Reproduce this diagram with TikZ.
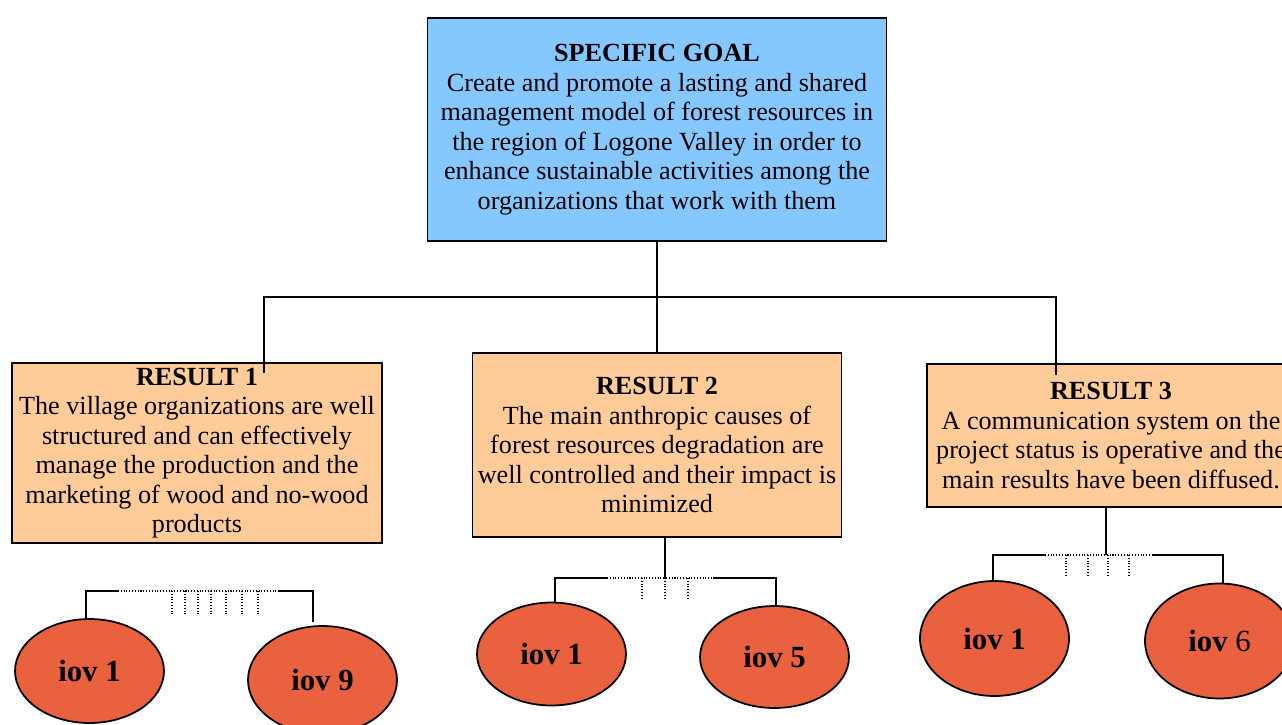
\documentclass[tikz,border=0pt]{standalone}
\usepackage{fontspec}
\setmainfont{Liberation Serif}
\usetikzlibrary{positioning,shapes.geometric}
\definecolor{goalblue}{RGB}{133,200,255}
\definecolor{resultpeach}{RGB}{255,204,153}
\definecolor{iovred}{RGB}{233,97,62}
\tikzset{
  goalbox/.style={
      rectangle,
      inner sep=0pt,
      draw=black,
      line width=1pt,
      fill=goalblue,
      align=center,
      font=\fontsize{14.9}{16.8}\selectfont
  },
  resultbox/.style={
      goalbox,
      fill=resultpeach
  },
  iov/.style={
      ellipse,
      inner sep=0pt,
      draw=black,
      line width=1pt,
      fill=iovred,
      minimum width=2.98cm,
      font=\fontsize{17.5}{20}\selectfont
  },
  link/.style={line width=1pt},
  gap/.style={densely dotted, line width=0.6pt}
}

\begin{document}
\begin{tikzpicture}[x=0.02cm,y=-0.02cm]
    \useasboundingbox (0,0) rectangle (1282,724);
    \clip (0,0) rectangle (1282,724);
    % goal and results
    \node[goalbox,minimum width=9.18cm,minimum height=4.46cm] (goal) at (657,129.5)
      {\textbf{SPECIFIC GOAL}\\Create and promote a lasting and shared\\management model of forest resources in\\the region of Logone Valley in order to\\enhance sustainable activities among the\\organizations that work with them};
    \node[resultbox,minimum width=7.4cm,minimum height=3.6cm] (res1) at (197,453)
      {\textbf{RESULT 1}\\The village organizations are well\\structured and can effectively\\manage the production and the\\marketing of wood and no-wood\\products};
    \node[resultbox,minimum width=7.38cm,minimum height=3.68cm] (res2) at (657,445)
      {\textbf{RESULT 2}\\The main anthropic causes of\\forest resources degradation are\\well controlled and their impact is\\minimized};
    \node[resultbox,minimum width=7.36cm,minimum height=2.86cm] (res3) at (1111,435.5)
      {\textbf{RESULT 3}\\A communication system on the\\project status is operative and the\\main results have been diffused.};
    % indicators
    \node[iov,minimum height=2.08cm] (r1iov1) at (89.5,671) {\textbf{iov 1}};
    \node[iov,minimum height=2.16cm] (r1iov9) at (322.5,680) {\textbf{iov 9}};
    \node[iov,minimum height=2.06cm] (r2iov1) at (551.5,654) {\textbf{iov 1}};
    \node[iov,minimum height=2.04cm] (r2iov5) at (774.5,657) {\textbf{iov 5}};
    \node[iov,minimum height=2.3cm] (r3iov1) at (994.5,638.5) {\textbf{iov 1}};
    \node[iov,minimum height=2.3cm] (r3iov6) at (1219.5,641) {\textbf{iov} 6};
    % goal to results
    \coordinate (drop1) at (264,373);
    \coordinate (bend3) at (1056,297);
    \coordinate (drop3) at (1056,375);
    \draw[link] (goal.south) -- (res2.north);
    \draw[link] (drop1) |- (bend3) -- (drop3);
    % result 1 to its indicators
    \coordinate (c1l) at (86,591);
    \coordinate (b1l) at (118,591);
    \coordinate (b1r) at (279,591);
    \coordinate (c1r) at (313,591);
    \draw[link] (c1l |- r1iov1.north) -- (c1l) -- (b1l);
    \draw[gap] (b1l) -- (b1r);
    \draw[link] (b1r) -- (c1r) -- ++(0,31);
    \foreach \x in {172,185,198,211,226,242,258}
      \draw[gap] (\x,591) -- ++(0,23);
    % result 2 to its indicators
    \coordinate (t2) at (665,578);
    \coordinate (c2l) at (555,578);
    \coordinate (b2l) at (607,578);
    \coordinate (b2r) at (713,578);
    \coordinate (c2r) at (776,578);
    \draw[link] (t2 |- res2.south) -- (t2);
    \draw[link] (c2l |- r2iov1.north) -- (c2l) -- (b2l);
    \draw[gap] (b2l) -- (b2r);
    \draw[link] (b2r) -- (c2r) -- (c2r |- r2iov5.north);
    \foreach \x in {642,665,688}
      \draw[gap] (\x,578) -- ++(0,21);
    % result 3 to its indicators
    \coordinate (t3) at (1106,555);
    \coordinate (c3l) at (993,555);
    \coordinate (b3l) at (1045,555);
    \coordinate (b3r) at (1153,555);
    \coordinate (c3r) at (1223,555);
    \draw[link] (t3 |- res3.south) -- (t3);
    \draw[link] (c3l |- r3iov1.north) -- (c3l) -- (b3l);
    \draw[gap] (b3l) -- (b3r);
    \draw[link] (b3r) -- (c3r) -- (c3r |- r3iov6.north);
    \foreach \x in {1066,1088,1108,1129}
      \draw[gap] (\x,555) -- ++(0,20);
\end{tikzpicture}
\end{document}
